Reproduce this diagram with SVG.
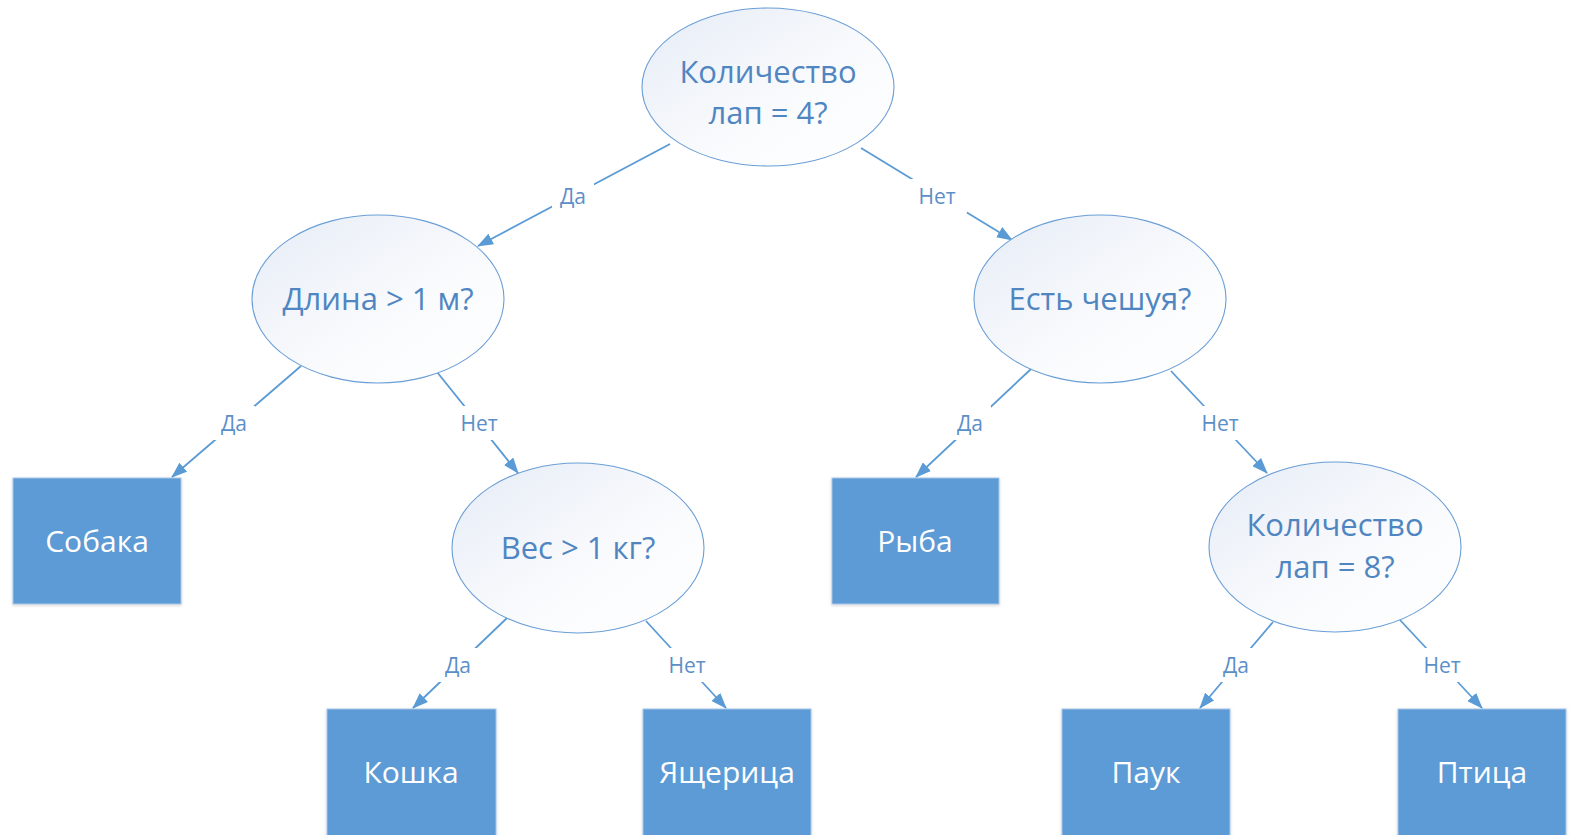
<svg xmlns="http://www.w3.org/2000/svg" width="1573" height="835" viewBox="0 0 1573 835">
  <defs>
    <linearGradient id="eg" x1="0" y1="0" x2="1" y2="1">
      <stop offset="0" stop-color="#E6ECF6"/>
      <stop offset="0.6" stop-color="#FAFBFD"/>
      <stop offset="1" stop-color="#FFFFFF"/>
    </linearGradient>
    <marker id="arr" markerWidth="16" markerHeight="12" refX="15" refY="6" orient="auto" markerUnits="userSpaceOnUse">
      <path d="M0,0 L16,6 L0,12 z" fill="#5B9BD5"/>
    </marker>
    <filter id="sh" x="-10%" y="-10%" width="120%" height="120%">
      <feDropShadow dx="0" dy="1" stdDeviation="1.5" flood-color="#000" flood-opacity="0.18"/>
    </filter>
  </defs>
  <style>
    .ell { fill: url(#eg); stroke: #6A9ED6; stroke-width: 1.1; }
    .ellt { font-family: "Open Sans", "Noto Sans", sans-serif; font-size: 31px; fill: #4F86C2; text-anchor: middle; }
    .box { fill: #5B9BD5; stroke: #A9C6E8; stroke-width: 1; filter: url(#sh); }
    .boxt { font-family: "Open Sans", "Noto Sans", sans-serif; font-size: 30px; fill: #FFFFFF; text-anchor: middle; }
    .con { stroke: #5B9BD5; stroke-width: 1.8; fill: none; marker-end: url(#arr); }
    .lbl { font-family: "Open Sans", "Noto Sans", sans-serif; font-size: 21px; fill: #5B8FC8; text-anchor: middle; }
    .lblbg { fill: #FFFFFF; }
  </style>
  <rect width="1573" height="835" fill="#FFFFFF"/>

  <g id="connectors">
    <line class="con" x1="670" y1="144" x2="478" y2="246"/>
    <line class="con" x1="861" y1="148" x2="1012" y2="240"/>
    <line class="con" x1="301" y1="366" x2="172" y2="477"/>
    <line class="con" x1="437" y1="372" x2="518" y2="473"/>
    <line class="con" x1="1031" y1="369" x2="916" y2="477"/>
    <line class="con" x1="1171" y1="371" x2="1267" y2="473"/>
    <line class="con" x1="507" y1="618" x2="413" y2="708"/>
    <line class="con" x1="646" y1="621" x2="726" y2="708"/>
    <line class="con" x1="1273" y1="622" x2="1200" y2="708"/>
    <line class="con" x1="1400" y1="620" x2="1482" y2="708"/>
    <g id="labels">
      <rect class="lblbg" x="552" y="179" width="42" height="34"/>
      <text class="lbl" x="573" y="204">Да</text>
      <rect class="lblbg" x="907" y="179" width="60" height="34"/>
      <text class="lbl" x="937" y="204">Нет</text>
      <rect class="lblbg" x="213" y="406" width="42" height="34"/>
      <text class="lbl" x="234" y="431">Да</text>
      <rect class="lblbg" x="449" y="406" width="60" height="34"/>
      <text class="lbl" x="479" y="431">Нет</text>
      <rect class="lblbg" x="949" y="406" width="42" height="34"/>
      <text class="lbl" x="970" y="431">Да</text>
      <rect class="lblbg" x="1190" y="406" width="60" height="34"/>
      <text class="lbl" x="1220" y="431">Нет</text>
      <rect class="lblbg" x="437" y="648" width="42" height="34"/>
      <text class="lbl" x="458" y="673">Да</text>
      <rect class="lblbg" x="657" y="648" width="60" height="34"/>
      <text class="lbl" x="687" y="673">Нет</text>
      <rect class="lblbg" x="1215" y="648" width="42" height="34"/>
      <text class="lbl" x="1236" y="673">Да</text>
      <rect class="lblbg" x="1412" y="648" width="60" height="34"/>
      <text class="lbl" x="1442" y="673">Нет</text>
    </g>
  </g>

  <g id="n-legs4">
    <ellipse class="ell" cx="768" cy="87" rx="126" ry="79"/>
    <text class="ellt" x="768" y="83">Количество</text>
    <text class="ellt" x="768" y="124">лап = 4?</text>
  </g>
  <g id="n-length">
    <ellipse class="ell" cx="378" cy="299" rx="126" ry="84"/>
    <text class="ellt" x="378" y="310">Длина &gt; 1 м?</text>
  </g>
  <g id="n-scales">
    <ellipse class="ell" cx="1100" cy="299" rx="126" ry="84"/>
    <text class="ellt" x="1100" y="310">Есть чешуя?</text>
  </g>
  <g id="n-weight">
    <ellipse class="ell" cx="578" cy="548" rx="126" ry="85"/>
    <text class="ellt" x="578" y="559">Вес &gt; 1 кг?</text>
  </g>
  <g id="n-legs8">
    <ellipse class="ell" cx="1335" cy="547" rx="126" ry="85"/>
    <text class="ellt" x="1335" y="536">Количество</text>
    <text class="ellt" x="1335" y="578">лап = 8?</text>
  </g>

  <g id="n-dog">
    <rect class="box" x="13" y="478" width="168" height="126"/>
    <text class="boxt" x="97" y="552">Собака</text>
  </g>
  <g id="n-fish">
    <rect class="box" x="832" y="478" width="167" height="126"/>
    <text class="boxt" x="915" y="552">Рыба</text>
  </g>
  <g id="n-cat">
    <rect class="box" x="327" y="709" width="169" height="130"/>
    <text class="boxt" x="411" y="783">Кошка</text>
  </g>
  <g id="n-lizard">
    <rect class="box" x="643" y="709" width="168" height="130"/>
    <text class="boxt" x="727" y="783">Ящерица</text>
  </g>
  <g id="n-spider">
    <rect class="box" x="1062" y="709" width="168" height="130"/>
    <text class="boxt" x="1146" y="783">Паук</text>
  </g>
  <g id="n-bird">
    <rect class="box" x="1398" y="709" width="168" height="130"/>
    <text class="boxt" x="1482" y="783">Птица</text>
  </g>
</svg>
